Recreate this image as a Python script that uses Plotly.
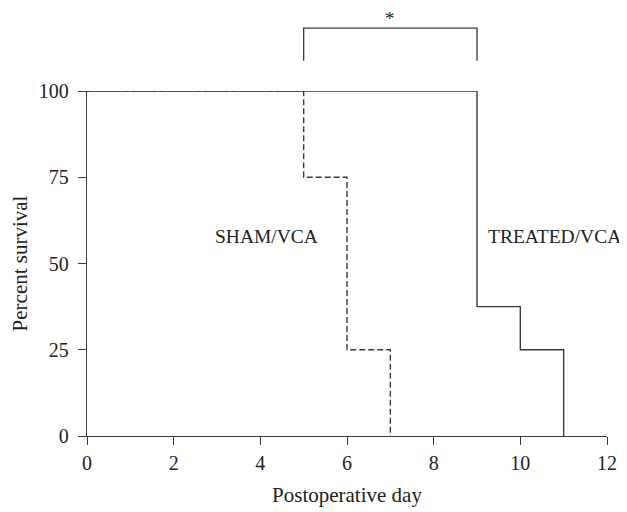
import plotly.graph_objects as go

# Data
treated_days = [0, 9, 10, 11]
treated_surv = [100, 37.5, 25, 0]
sham_days = [0, 5, 6, 7]
sham_surv = [100, 75, 25, 0]
x_ticks = [0, 2, 4, 6, 8, 10, 12]
y_ticks = [0, 25, 50, 75, 100]
bracket_days = [5, 9]

LINE = "#3a3a3a"
FONT = "Liberation Serif"
TXT = "#222"

fig = go.Figure()
fig.add_trace(go.Scatter(x=sham_days, y=sham_surv, mode="lines", line_shape="hv",
                         line=dict(color=LINE, width=1.4, dash="6px,3px"), showlegend=False))
fig.add_trace(go.Scatter(x=treated_days, y=treated_surv, mode="lines", line_shape="hv",
                         line=dict(color=LINE, width=1.4), showlegend=False))

# significance bracket
x0, x1 = bracket_days
fig.add_shape(type="path", xref="x", yref="paper",
              path=f"M {x0},1.088 L {x0},1.182 L {x1},1.182 L {x1},1.088",
              line=dict(color=LINE, width=1.3))
fig.add_annotation(x=(x0 + x1) / 2, y=1.182, xref="x", yref="paper", text="*",
                   showarrow=False, yanchor="bottom", yshift=-3,
                   font=dict(family=FONT, size=19, color=TXT))

fig.add_annotation(x=2.91, y=57.7, text="SHAM/VCA", showarrow=False, xanchor="left",
                   font=dict(family=FONT, size=19.5, color=TXT))
fig.add_annotation(x=9.20, y=57.7, text="TREATED/VCA", showarrow=False, xanchor="left",
                   font=dict(family=FONT, size=19.5, color=TXT))

fig.update_layout(
    width=627, height=512,
    margin=dict(l=79, r=28, t=83, b=84),
    plot_bgcolor="white", paper_bgcolor="white",
    font=dict(family=FONT, size=20, color=TXT),
)
fig.update_xaxes(range=[0, 12], tickvals=x_ticks, ticks="outside", ticklen=8,
                 tickcolor=LINE, tickwidth=1.3, showline=True, linecolor=LINE, linewidth=1.3,
                 showgrid=False, zeroline=False, automargin=False, ticklabelstandoff=1,
                 title=dict(text="Postoperative day", standoff=14, font=dict(size=21)),
                 tickfont=dict(size=20))
fig.update_yaxes(range=[0, 100], tickvals=y_ticks, ticks="outside", ticklen=8,
                 tickcolor=LINE, tickwidth=1.3, showline=True, linecolor=LINE, linewidth=1.3,
                 showgrid=False, zeroline=False, automargin=False, ticklabelstandoff=5,
                 title=dict(text="Percent survival", standoff=10, font=dict(size=21)),
                 tickfont=dict(size=20))

fig.write_html("out.html")
